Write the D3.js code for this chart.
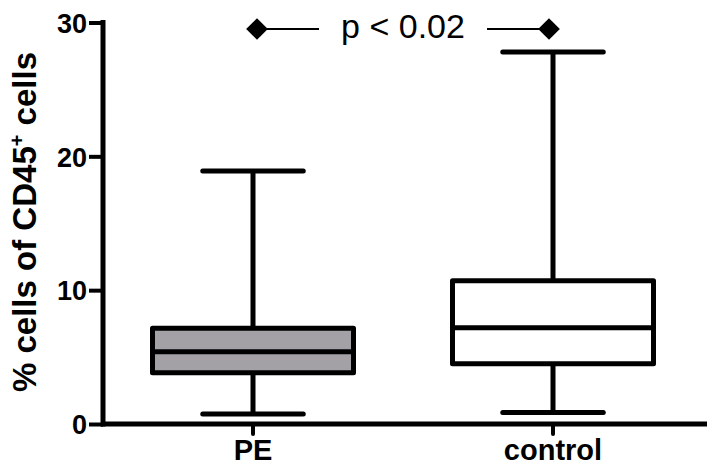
<!DOCTYPE html>
<html>
<head>
<meta charset="utf-8">
<script src="https://cdn.jsdelivr.net/npm/d3@7"></script>
<style>
body { margin: 0; background: #fff; }
svg text { font-family: 'Liberation Sans', Arial, sans-serif; }
</style>
</head>
<body>
<script>
// box plot values
var groups = ['PE', 'control'];
var whiskerLow = [0.75, 0.85];
var q1 = [3.83, 4.5];
var median = [5.4, 7.2];
var q3 = [7.15, 10.7];
var whiskerHigh = [18.9, 27.8];
var fills = ['#a3a1a6', '#ffffff'];
var yTicks = [0, 10, 20, 30];
var pLabel = 'p < 0.02';

var width = 707, height = 466;
var svg = d3.select('body').append('svg')
    .attr('width', width)
    .attr('height', height);

var x = d3.scaleBand()
    .domain(groups)
    .range([103, 703]);

var y = d3.scaleLinear()
    .domain([0, 30])
    .range([424, 22.5]);

var data = groups.map(function(g, i){
    return {group: g, lo: whiskerLow[i], q1: q1[i], med: median[i], q3: q3[i], hi: whiskerHigh[i], fill: fills[i]};
});

var boxW = x.bandwidth() * 0.67;
var capW = boxW / 2;
var sw = 5;

// y axis
var yAxis = d3.axisLeft(y).tickValues(yTicks).tickSize(14).tickPadding(2).tickSizeOuter(0);
var gy = svg.append('g').attr('transform', 'translate(103,0)').call(yAxis);
gy.select('.domain').remove();
gy.selectAll('.tick line').attr('stroke', '#000').attr('stroke-width', 4);
gy.selectAll('.tick text')
    .attr('fill', '#000')
    .style('font-size', '27px')
    .style('font-weight', 'bold')
    .attr('dy', '0.36em');
gy.append('line')
    .attr('x1', 0).attr('x2', 0)
    .attr('y1', y(30) - 2.5).attr('y2', y(0) + 2.5)
    .attr('stroke', '#000').attr('stroke-width', sw);

// x axis
var xAxis = d3.axisBottom(x).tickSize(10).tickPadding(5).tickSizeOuter(0);
var gx = svg.append('g').attr('transform', 'translate(0,' + y(0) + ')').call(xAxis);
gx.select('.domain').remove();
gx.selectAll('.tick line').attr('stroke', '#000').attr('stroke-width', 4).attr('stroke-linecap', 'round');
gx.selectAll('.tick text')
    .attr('fill', '#000')
    .style('font-size', '29px')
    .style('font-weight', 'bold');
gx.append('line')
    .attr('x1', 101).attr('x2', width)
    .attr('y1', 0).attr('y2', 0)
    .attr('stroke', '#000').attr('stroke-width', sw);

// boxes
var box = svg.selectAll('.box')
    .data(data)
    .enter()
    .append('g')
    .attr('class', 'box')
    .attr('transform', function(d){ return 'translate(' + (x(d.group) + x.bandwidth() / 2) + ',0)'; });

box.append('line')
    .attr('x1', 0).attr('x2', 0)
    .attr('y1', function(d){ return y(d.hi); })
    .attr('y2', function(d){ return y(d.lo); })
    .attr('stroke', '#000').attr('stroke-width', sw);

box.selectAll('.cap')
    .data(function(d){ return [d.lo, d.hi]; })
    .enter()
    .append('line')
    .attr('x1', -capW / 2).attr('x2', capW / 2)
    .attr('y1', function(v){ return y(v); })
    .attr('y2', function(v){ return y(v); })
    .attr('stroke', '#000').attr('stroke-width', sw)
    .attr('stroke-linecap', 'round');

box.append('rect')
    .attr('x', -boxW / 2)
    .attr('width', boxW)
    .attr('y', function(d){ return y(d.q3); })
    .attr('height', function(d){ return y(d.q1) - y(d.q3); })
    .attr('fill', function(d){ return d.fill; })
    .attr('stroke', '#000').attr('stroke-width', sw)
    .attr('stroke-linejoin', 'round');

box.append('line')
    .attr('x1', -boxW / 2).attr('x2', boxW / 2)
    .attr('y1', function(d){ return y(d.med); })
    .attr('y2', function(d){ return y(d.med); })
    .attr('stroke', '#000').attr('stroke-width', sw);

// y title
svg.append('text')
    .attr('transform', 'translate(36,' + 222 + ') rotate(-90)')
    .attr('text-anchor', 'middle')
    .style('font-size', '33px')
    .style('font-weight', 'bold')
    .html('% cells of CD45<tspan dy="-12" font-size="20">+</tspan><tspan dy="12"> cells</tspan>');

// significance bracket
var bx1 = x('PE') + x.bandwidth() / 2 + 4;
var bx2 = x('control') + x.bandwidth() / 2 - 4;
var by = 29;
var mid = (bx1 + bx2) / 2;
var sig = svg.append('g');
sig.append('line').attr('x1', bx1).attr('x2', mid - 84).attr('y1', by).attr('y2', by)
    .attr('stroke', '#000').attr('stroke-width', 2);
sig.append('line').attr('x1', mid + 84).attr('x2', bx2).attr('y1', by).attr('y2', by)
    .attr('stroke', '#000').attr('stroke-width', 2);
sig.selectAll('path')
    .data([bx1, bx2])
    .enter()
    .append('path')
    .attr('d', d3.symbol().type(d3.symbolDiamond2).size(300))
    .attr('transform', function(d){ return 'translate(' + d + ',' + by + ')'; })
    .attr('fill', '#000');
sig.append('text')
    .attr('x', mid).attr('y', 38)
    .attr('text-anchor', 'middle')
    .style('font-size', '34px')
    .text(pLabel);
</script>
</body>
</html>
